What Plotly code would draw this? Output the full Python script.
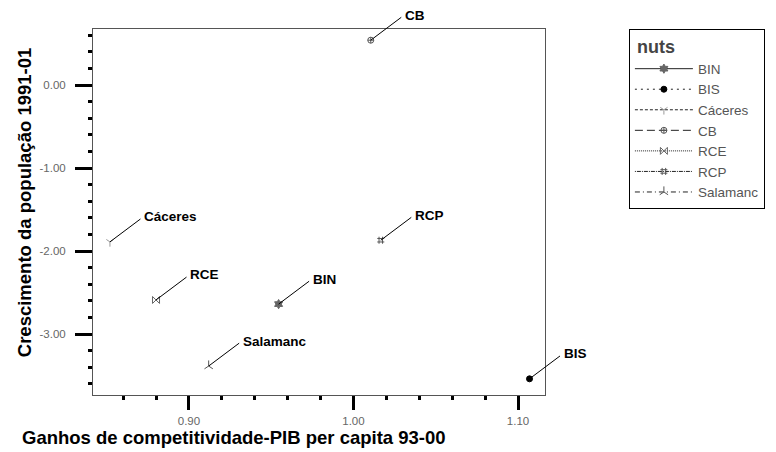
import plotly.graph_objects as go

# ---- data ----
names = ["BIN", "BIS", "Cáceres", "CB", "RCE", "RCP", "Salamanc"]
x_vals = [0.9545, 1.107, 0.852, 1.0105, 0.880, 1.0166, 0.912]
y_vals = [-2.64, -3.54, -1.89, 0.54, -2.59, -1.87, -3.386]
x_ticks = [0.90, 1.00, 1.10]
x_ticklabels = ["0.90", "1.00", "1.10"]
y_ticks = [0.0, -1.0, -2.0, -3.0]
y_ticklabels = ["0.00", "-1.00", "-2.00", "-3.00"]

# ---- styles ----
symbols = ["hexagram", "circle", "y-down-open", "circle-cross-open",
           "bowtie-open", "hash-open", "y-up-open"]
mcolors = ["#666666", "#000000", "#999999", "#555555", "#666666", "#555555", "#555555"]
msizes = [7, 6, 6, 6, 7, 7, 7]
dashes = ["solid", "2px,4px", "3px,2px", "8px,4px", "1px,1px",
          "1px,1px,4px,1px", "5px,3px,1px,3px"]

FONT = "Arial, Liberation Sans, sans-serif"

fig = go.Figure()
for i, n in enumerate(names):
    fig.add_trace(go.Scatter(
        x=[x_vals[i]], y=[y_vals[i]], name=n,
        mode="lines+markers",
        line=dict(color="#222222", width=1, dash=dashes[i]),
        marker=dict(symbol=symbols[i], size=msizes[i], color=mcolors[i],
                    line=dict(color=mcolors[i], width=1)),
        cliponaxis=False,
    ))

AX, AY = 32, -24
for i, n in enumerate(names):
    fig.add_annotation(x=x_vals[i], y=y_vals[i], xref="x", yref="y",
                       text="", showarrow=True, arrowhead=0, arrowwidth=1,
                       arrowcolor="#000000", ax=AX, ay=AY, standoff=0,
                       startstandoff=0)
    fig.add_annotation(x=x_vals[i], y=y_vals[i], xref="x", yref="y",
                       text="<b>%s</b>" % n, showarrow=False,
                       xanchor="left", yanchor="middle",
                       xshift=AX, yshift=-AY + 1,
                       font=dict(family=FONT, size=13.5, color="#000000"))

# axis titles
fig.add_annotation(x=0.3124, y=-0.1148, xref="paper", yref="paper",
                   text="<b>Ganhos de competitividade-PIB per capita 93-00</b>",
                   showarrow=False, xanchor="center", yanchor="middle",
                   font=dict(family=FONT, size=18.5, color="#000000"))
fig.add_annotation(x=-0.150, y=0.5246, xref="paper", yref="paper",
                   text="<b>Crescimento da população 1991-01</b>",
                   showarrow=False, xanchor="center", yanchor="middle",
                   textangle=-90,
                   font=dict(family=FONT, size=18.5, color="#000000"))

fig.update_layout(
    width=776, height=452,
    margin=dict(l=93, r=230, t=29, b=57),
    paper_bgcolor="white", plot_bgcolor="white",
    font=dict(family=FONT),
    showlegend=True,
    legend=dict(
        x=1.183, y=1.0, xanchor="left", yanchor="top",
        bgcolor="white", bordercolor="#000000", borderwidth=1,
        font=dict(family=FONT, size=13.5, color="#555555"),
        title=dict(text="\u00a0<b>nuts</b>",
                   font=dict(family=FONT, size=18, color="#444444")),
        itemwidth=58,
    ),
    xaxis=dict(
        range=[0.8417, 1.1164], tickvals=x_ticks, ticktext=x_ticklabels,
        ticks="outside", ticklen=14, tickwidth=3, tickcolor="#000000",
        minor=dict(dtick=0.02, tick0=0.9, ticks="outside", ticklen=4,
                   tickwidth=3, tickcolor="#000000", showgrid=False),
        showgrid=False, zeroline=False,
        showline=True, linecolor="#555555", linewidth=1, mirror=True,
        tickfont=dict(family=FONT, size=11.5, color="#666666"),
        ticklabelstandoff=1,
    ),
    yaxis=dict(
        range=[-3.735, 0.675], tickvals=y_ticks, ticktext=y_ticklabels,
        ticks="outside", ticklen=17, tickwidth=3, tickcolor="#000000",
        minor=dict(dtick=0.2, tick0=0, ticks="outside", ticklen=4,
                   tickwidth=3, tickcolor="#000000", showgrid=False),
        showgrid=False, zeroline=False,
        showline=True, linecolor="#555555", linewidth=1, mirror=True,
        tickfont=dict(family=FONT, size=11.5, color="#666666"),
        ticklabelstandoff=7,
    ),
)

fig.write_html("out.html")
